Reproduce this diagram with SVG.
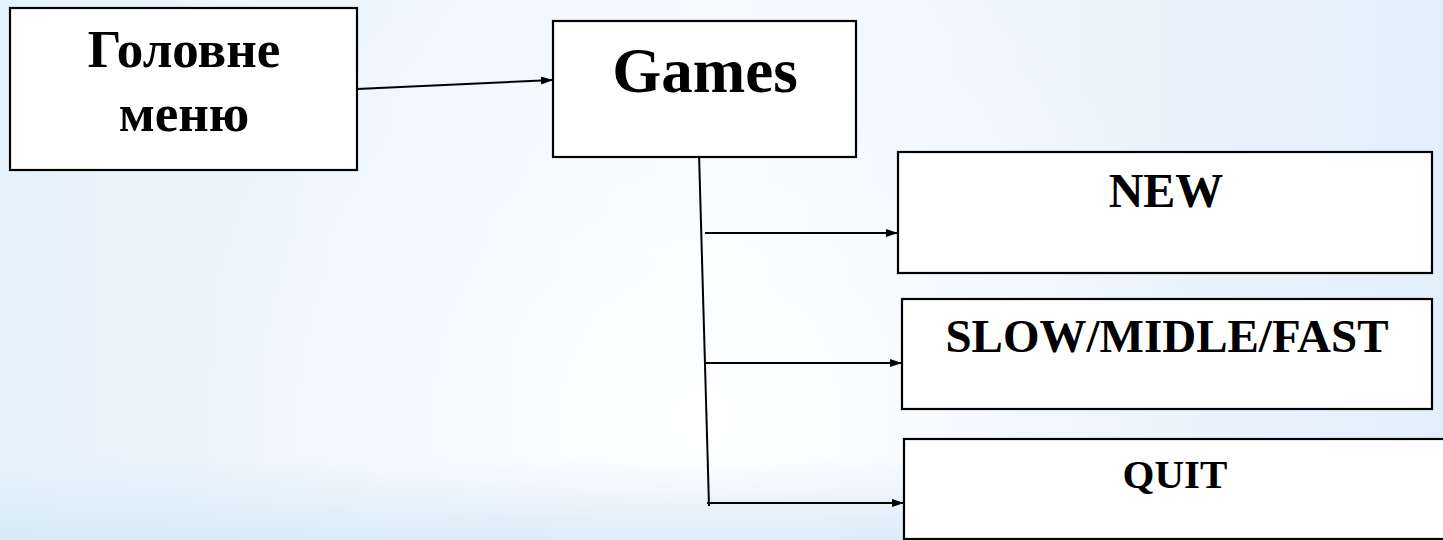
<svg xmlns="http://www.w3.org/2000/svg" width="1443" height="540" viewBox="0 0 1443 540">
  <defs>
    <linearGradient id="bg" x1="0" y1="0" x2="1" y2="0">
      <stop offset="0" stop-color="#e6f2fc"/>
      <stop offset="0.5" stop-color="#f5f9fe"/>
      <stop offset="1" stop-color="#e2effb"/>
    </linearGradient>
    <radialGradient id="glow" cx="700" cy="420" r="520" gradientUnits="userSpaceOnUse">
      <stop offset="0" stop-color="#ffffff" stop-opacity="0.9"/>
      <stop offset="1" stop-color="#ffffff" stop-opacity="0"/>
    </radialGradient>
    <linearGradient id="bottom" x1="0" y1="0" x2="0" y2="1">
      <stop offset="0.85" stop-color="#d4e8f8" stop-opacity="0"/>
      <stop offset="1" stop-color="#d4e8f8" stop-opacity="0.8"/>
    </linearGradient>
    <marker id="arrow" viewBox="0 0 12 8" refX="12" refY="4" markerWidth="12" markerHeight="8" markerUnits="userSpaceOnUse" orient="auto">
      <path d="M0,0 L12,4 L0,8 Z" fill="#000"/>
    </marker>
    <style>
      .box { fill: #ffffff; stroke: #000000; stroke-width: 2.2; }
      .lbl { font-family: "Liberation Serif", "Times New Roman", serif; font-weight: bold; fill: #000; text-anchor: middle; }
      .conn { stroke: #000; stroke-width: 2; fill: none; }
    </style>
  </defs>
  <rect x="0" y="0" width="1443" height="540" fill="url(#bg)"/>
  <rect x="0" y="0" width="1443" height="540" fill="url(#glow)"/>
  <rect x="0" y="0" width="1443" height="540" fill="url(#bottom)"/>

  <g id="connectors">
    <line class="conn" x1="357" y1="89" x2="553" y2="80" marker-end="url(#arrow)"/>
    <line class="conn" x1="699" y1="153" x2="709" y2="506"/>
    <line class="conn" x1="705" y1="233" x2="898" y2="233" marker-end="url(#arrow)"/>
    <line class="conn" x1="705" y1="363" x2="902" y2="363" marker-end="url(#arrow)"/>
    <line class="conn" x1="707" y1="503" x2="904" y2="503" marker-end="url(#arrow)"/>
  </g>

  <g id="node-main">
    <rect class="box" x="10" y="8" width="347" height="162"/>
    <text class="lbl" x="184" y="67" font-size="53">Головне</text>
    <text class="lbl" x="184" y="131" font-size="53">меню</text>
  </g>
  <g id="node-games">
    <rect class="box" x="553" y="21" width="303" height="136"/>
    <text class="lbl" x="705" y="92" font-size="63">Games</text>
  </g>
  <g id="node-new">
    <rect class="box" x="898" y="152" width="534" height="121"/>
    <text class="lbl" x="1166" y="207" font-size="48">NEW</text>
  </g>
  <g id="node-speed">
    <rect class="box" x="902" y="299" width="530" height="110"/>
    <text class="lbl" x="1167" y="352" font-size="47">SLOW/MIDLE/FAST</text>
  </g>
  <g id="node-quit">
    <rect class="box" x="904" y="439" width="560" height="100"/>
    <text class="lbl" x="1175" y="488" font-size="41">QUIT</text>
  </g>
</svg>
